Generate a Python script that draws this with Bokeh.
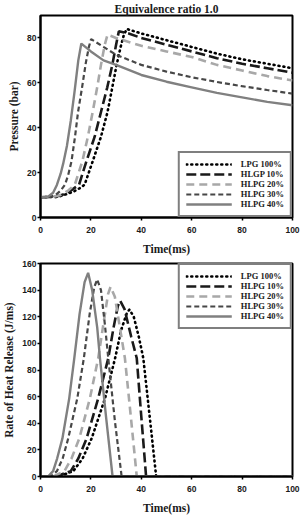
from bokeh.plotting import figure
from bokeh.layouts import column
from bokeh.models import Range1d, Legend, LegendItem, FixedTicker
from bokeh.embed import file_html
from bokeh.resources import INLINE

# ---------------- data ----------------
series_names_p = ["LPG 100%", "HLGP 10%", "HLPG 20%", "HLPG 30%", "HLPG 40%"]
series_names_h = ["LPG 100%", "HLPG 10%", "HLPG 20%", "HLPG 30%", "HLPG 40%"]

# Pressure (bar) vs time (ms)
p_t_lpg100 = [0, 7, 10, 13, 15.5, 17.5, 20.7, 24, 26.6, 28.5, 30.2, 31.8, 33, 34.2, 40, 50, 60, 70, 80, 90, 100]
p_v_lpg100 = [9, 9.2, 10.3, 11.5, 13, 14.6, 25, 36, 47, 58, 68, 76, 81, 84, 82, 79, 76, 73, 70.5, 68.5, 66.5]
p_t_h10 = [0, 6, 9, 12, 15.3, 18.2, 21.5, 24, 26.5, 28.5, 30, 31.1, 35, 40, 50, 60, 70, 80, 90, 100]
p_v_h10 = [9, 9.2, 10.2, 12, 14.6, 25, 36, 47, 58, 68, 77, 83, 82, 80, 77, 74, 71, 68.5, 66.5, 64.5]
p_t_h20 = [0, 5, 8, 11, 13.6, 16.6, 18.8, 20.7, 22.5, 24, 25.5, 26.6, 30, 40, 50, 60, 70, 80, 90, 100]
p_v_h20 = [9, 9.2, 10, 12, 14.6, 25, 36, 47, 58, 68, 77, 81.5, 80, 76.5, 74, 71.5, 68, 65.5, 63, 61]
p_t_h30 = [0, 4, 6, 8, 9.7, 11, 12.3, 13.7, 14.9, 16.5, 18, 19.2, 20.1, 25, 30, 40, 50, 60, 70, 80, 90, 100]
p_v_h30 = [9, 9.2, 10, 12, 14.6, 19, 25, 36, 47, 58, 69, 76, 79.5, 76, 72.5, 68, 65, 62.5, 60.4, 58.5, 56.8, 55.2]
p_t_h40 = [0, 3, 5, 6.5, 8, 9, 10.5, 12, 13.5, 15, 16.2, 20, 25, 30, 40, 50, 60, 70, 80, 90, 100]
p_v_h40 = [9, 9.3, 11, 14.5, 19.5, 24, 32, 43, 56, 70, 77.5, 74, 70, 68, 63.5, 60.5, 58, 55.5, 53.5, 51.5, 50]

# Rate of heat release (J/ms) vs time (ms)
h_t_lpg100 = [0, 7, 13, 16.7, 20.3, 25.6, 29.6, 32, 34.3, 35.3, 37, 39, 40.8, 43.5, 45.9, 100]
h_v_lpg100 = [0, 0, 4, 13.5, 28.6, 58.7, 88.8, 110, 123, 125.4, 120, 105, 88.8, 42, 0, 0]
h_t_h10 = [0, 6, 12, 15, 18.3, 22.9, 26.9, 29, 30.7, 31.6, 33.3, 36, 38.2, 40, 41.9, 100]
h_v_h10 = [0, 0, 4, 13.5, 28.6, 58.7, 88.8, 112, 128, 132, 126, 105, 88.8, 45, 0, 0]
h_t_h20 = [0, 5, 9.5, 12.3, 15.4, 19.6, 22.9, 25, 26.8, 27.8, 29.5, 31.5, 33.5, 36, 38.2, 100]
h_v_h20 = [0, 0, 4, 13.5, 28.6, 58.7, 88.8, 115, 137, 142.5, 135, 112, 88.8, 42, 0, 0]
h_t_h30 = [0, 4, 6.5, 8.8, 11, 14.6, 17.2, 19.5, 21.3, 22.5, 24, 25.5, 26.9, 29.5, 32.2, 100]
h_v_h30 = [0, 0, 4, 13.5, 28.6, 58.7, 88.8, 122, 142, 148, 140, 115, 88.8, 42, 0, 0]
h_t_h40 = [0, 3, 5, 6.6, 8.7, 11.4, 13.4, 15.5, 17.5, 18.9, 20.5, 22.5, 23.6, 26, 28.6, 100]
h_v_h40 = [0, 0, 4, 13.5, 28.6, 58.7, 88.8, 122, 146, 153, 140, 112, 88.8, 45, 0, 0]

x_ticks = [0, 20, 40, 60, 80, 100]
p_ticks = [0, 20, 40, 60, 80]
h_ticks = [0, 20, 40, 60, 80, 100, 120, 140, 160]

# ---------------- styles ----------------
styles = [
    dict(line_color="#000000", line_width=2.6, line_dash="1 4", line_cap="round"),
    dict(line_color="#1a1a1a", line_width=2.6, line_dash="10 4"),
    dict(line_color="#a8a8a8", line_width=2.6, line_dash="8 5"),
    dict(line_color="#474747", line_width=2.2, line_dash="5 3"),
    dict(line_color="#808080", line_width=2.4),
]

SERIF = "Liberation Serif"
SANS = "Liberation Sans"


def style_fig(p, yticks):
    p.outline_line_color = "black"
    p.outline_line_width = 2
    p.xgrid.visible = False
    p.ygrid.visible = False
    p.xaxis.ticker = FixedTicker(ticks=x_ticks)
    p.yaxis.ticker = FixedTicker(ticks=yticks)
    for ax in (p.xaxis[0], p.yaxis[0]):
        ax.axis_line_color = "black"
        ax.axis_line_width = 2
        ax.major_tick_in = 0
        ax.major_tick_out = 3
        ax.major_tick_line_width = 1.5
        ax.minor_tick_line_color = None
        ax.major_label_text_font = SANS
        ax.major_label_text_font_style = "bold"
        ax.major_label_text_font_size = "8.5px"
        ax.major_label_text_color = "#1a1a1a"
        ax.axis_label_text_font = SERIF
        ax.axis_label_text_font_style = "bold"
        ax.axis_label_text_font_size = "11.5px"
        ax.axis_label_text_color = "#1a1a1a"
    p.xaxis.major_label_standoff = 6
    p.xaxis.axis_label_standoff = 7
    p.yaxis.major_label_standoff = 1
    p.yaxis.axis_label_standoff = 4


def add_lines(p, ts, vs, names, loc):
    items = []
    for t, v, st, nm in zip(ts, vs, styles, names):
        r = p.line(t, v, **st)
        items.append(LegendItem(label=nm, renderers=[r]))
    lg = Legend(items=items, location=loc)
    lg.label_text_font = SERIF
    lg.label_text_font_style = "bold"
    lg.label_text_font_size = "8.5px"
    lg.label_text_color = "#1a1a1a"
    lg.glyph_width = 46
    lg.glyph_height = 10
    lg.label_height = 10
    lg.label_standoff = 9
    lg.spacing = 0
    lg.padding = 6
    lg.margin = 0
    lg.border_line_color = "black"
    lg.border_line_width = 2
    lg.background_fill_alpha = 1
    p.add_layout(lg, "center")


# ---------------- top figure ----------------
p1 = figure(width=302, frame_height=202, output_backend="svg", toolbar_location=None,
            title="Equivalence ratio 1.0",
            x_range=Range1d(0, 100), y_range=Range1d(0, 90),
            min_border_top=0, min_border_right=9, min_border_left=0, min_border_bottom=0)
p1.title.align = "center"
p1.title.text_font = SERIF
p1.title.text_font_style = "bold"
p1.title.text_font_size = "11.5px"
p1.title.text_color = "#1a1a1a"
p1.title.standoff = 1
style_fig(p1, p_ticks)
p1.xaxis.axis_label = "Time(ms)"
p1.yaxis.axis_label = "Pressure (bar)"
add_lines(p1,
          [p_t_lpg100, p_t_h10, p_t_h20, p_t_h30, p_t_h40],
          [p_v_lpg100, p_v_h10, p_v_h20, p_v_h30, p_v_h40],
          series_names_p, "bottom_right")

# ---------------- bottom figure ----------------
p2 = figure(width=302, frame_height=213, output_backend="svg", toolbar_location=None,
            x_range=Range1d(0, 100), y_range=Range1d(0, 160),
            min_border_top=6, min_border_right=10, min_border_left=0, min_border_bottom=0)
style_fig(p2, h_ticks)
p2.xaxis.axis_label = "Time(ms)"
p2.yaxis.axis_label = "Rate of Heat Release (J/ms)"
add_lines(p2,
          [h_t_lpg100, h_t_h10, h_t_h20, h_t_h30, h_t_h40],
          [h_v_lpg100, h_v_h10, h_v_h20, h_v_h30, h_v_h40],
          series_names_h, "top_right")

layout = column(p1, p2, spacing=0)
open("out.html", "w").write(file_html(layout, INLINE))
